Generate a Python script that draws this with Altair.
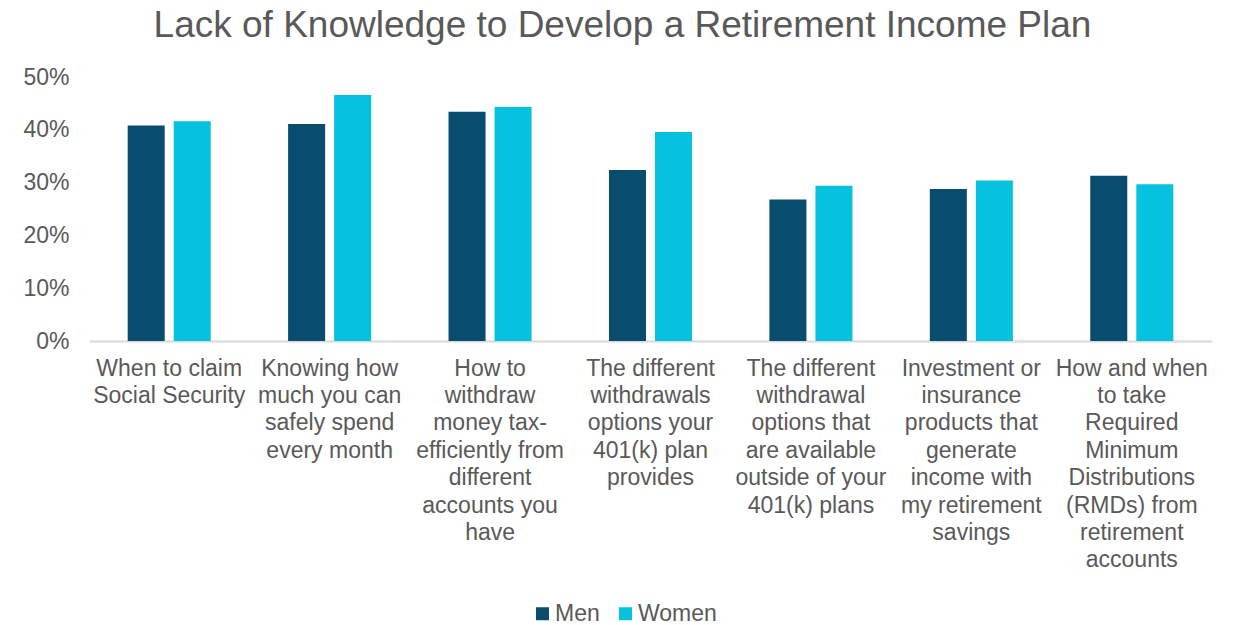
import altair as alt
import pandas as pd

categories = [
    "When to claim\nSocial Security",
    "Knowing how\nmuch you can\nsafely spend\nevery month",
    "How to\nwithdraw\nmoney tax-\nefficiently from\ndifferent\naccounts you\nhave",
    "The different\nwithdrawals\noptions your\n401(k) plan\nprovides",
    "The different\nwithdrawal\noptions that\nare available\noutside of your\n401(k) plans",
    "Investment or\ninsurance\nproducts that\ngenerate\nincome with\nmy retirement\nsavings",
    "How and when\nto take\nRequired\nMinimum\nDistributions\n(RMDs) from\nretirement\naccounts",
]
men = [40.8, 41.1, 43.4, 32.4, 26.8, 28.8, 31.3]
women = [41.6, 46.6, 44.3, 39.6, 29.4, 30.4, 29.7]
groups = ["Men", "Women"]
colors = ["#084c6e", "#06c2de"]

rows = []
for cat, m, w in zip(categories, men, women):
    rows.append({"category": cat, "group": "Men", "value": m})
    rows.append({"category": cat, "group": "Women", "value": w})
df = pd.DataFrame(rows)

text_color = "#595959"
font = "Liberation Sans"

chart = (
    alt.Chart(df)
    .mark_bar()
    .encode(
        x=alt.X(
            "category:N",
            sort=categories,
            scale=alt.Scale(paddingInner=0, paddingOuter=0),
            axis=alt.Axis(
                title=None,
                labelAngle=0,
                labelExpr="split(datum.label, '\\n')",
                labelFontSize=23,
                labelFont=font,
                labelColor=text_color,
                labelLineHeight=27.4,
                labelPadding=16,
                labelLimit=0,
                labelOverlap=False,
                ticks=False,
                domainColor="#d9d9d9",
                domainWidth=2,
            ),
        ),
        xOffset=alt.XOffset(
            "group:N",
            sort=groups,
            scale=alt.Scale(paddingInner=0.196, paddingOuter=0.84),
        ),
        y=alt.Y(
            "value:Q",
            scale=alt.Scale(domain=[0, 50]),
            axis=alt.Axis(
                title=None,
                values=[0, 10, 20, 30, 40, 50],
                labelExpr="datum.value + '%'",
                labelFontSize=23,
                labelFont=font,
                labelColor=text_color,
                labelPadding=20,
                ticks=False,
                domain=False,
                grid=False,
            ),
        ),
        color=alt.Color(
            "group:N",
            sort=groups,
            scale=alt.Scale(domain=groups, range=colors),
            legend=alt.Legend(
                title=None,
                orient="none",
                direction="horizontal",
                legendX=442,
                legendY=525,
                symbolType="square",
                symbolSize=169,
                symbolStrokeWidth=0,
                labelFontSize=23,
                labelFont=font,
                labelColor=text_color,
                columnPadding=14,
                labelOffset=1,
            ),
        ),
    )
    .properties(
        width=1123,
        height=264,
        autosize=alt.AutoSizeParams(type="none"),
        padding={"left": 89, "top": 77, "right": 24, "bottom": 284},
        title=alt.TitleParams(
            "Lack of Knowledge to Develop a Retirement Income Plan",
            fontSize=37,
            font=font,
            fontWeight="normal",
            color=text_color,
            anchor="middle",
            dx=-28,
            offset=21,
        ),
    )
    .configure_view(stroke=None)
)

chart.save("out.html", embed_options={"renderer": "svg", "actions": False})
